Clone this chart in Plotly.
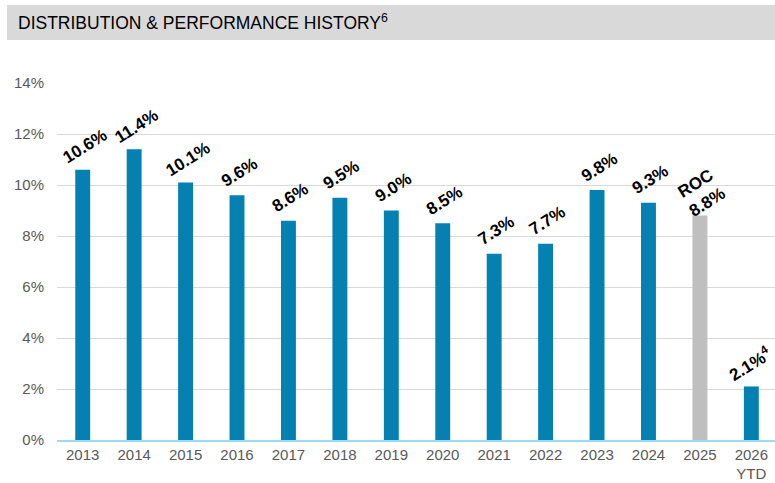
import plotly.graph_objects as go

years = ["2013", "2014", "2015", "2016", "2017", "2018", "2019", "2020",
         "2021", "2022", "2023", "2024", "2025", "2026<br>YTD"]
values = [10.6, 11.4, 10.1, 9.6, 8.6, 9.5, 9.0, 8.5, 7.3, 7.7, 9.8, 9.3, 8.8, 2.1]
labels = ["10.6%", "11.4%", "10.1%", "9.6%", "8.6%", "9.5%", "9.0%", "8.5%",
          "7.3%", "7.7%", "9.8%", "9.3%", "ROC<br>8.8%", "2.1%<sup>4</sup>"]
colors = ["#0481B0"] * 12 + ["#BFBFBF", "#0481B0"]
y_ticks = [0, 2, 4, 6, 8, 10, 12, 14]
y_tick_text = [f"{v}%" for v in y_ticks]

FONT = "Liberation Sans, Arial, sans-serif"

fig = go.Figure(go.Bar(x=years, y=values, marker=dict(color=colors, line=dict(width=0)),
                       hoverinfo="skip"))

# category axis: annotation x given as category index
n = len(values)
for i, (v, t) in enumerate(zip(values, labels)):
    fig.add_annotation(x=i, y=v, text=t, showarrow=False, textangle=-32,
                       yanchor="middle", xanchor="center", yshift=23,
                       xshift=2 if i < n - 1 else -1,
                       font=dict(family=FONT, size=17, color="#000000", weight="bold"))

fig.add_shape(type="rect", xref="paper", yref="paper", x0=-50 / 718, x1=1.0,
              y0=(483 - 40 - 43) / 357, y1=(483 - 5 - 43) / 357,
              fillcolor="#D9D9D9", line=dict(width=0), layer="below")
fig.add_annotation(xref="paper", yref="paper", x=-41 / 718, y=(483 - 22 - 43) / 357,
                   xanchor="left", yanchor="middle", showarrow=False,
                   text="DISTRIBUTION & PERFORMANCE HISTORY<sup>6</sup>",
                   font=dict(family=FONT, size=17.5, color="#000000"))

fig.update_layout(
    width=775, height=483,
    margin=dict(l=57, r=0, t=83, b=43),
    paper_bgcolor="white", plot_bgcolor="white",
    bargap=0.71, showlegend=False,
    font=dict(family=FONT),
    xaxis=dict(type="category", range=[-0.5, len(years) - 0.54], showgrid=False,
               tickfont=dict(size=15, color="#595959"),
               showline=True, linecolor="#9DD9F3", linewidth=1.5, ticks="",
               fixedrange=True),
    yaxis=dict(range=[0, 14], tickvals=y_ticks, ticktext=y_tick_text,
               showgrid=True, gridcolor="#D9D9D9", gridwidth=1, zeroline=False,
               tickfont=dict(size=15, color="#595959"), ticks="", ticklen=0,
               ticklabelstandoff=12, fixedrange=True),
)

fig.write_html("out.html", config={"displayModeBar": False},
               post_script="document.body.style.margin='0';")
